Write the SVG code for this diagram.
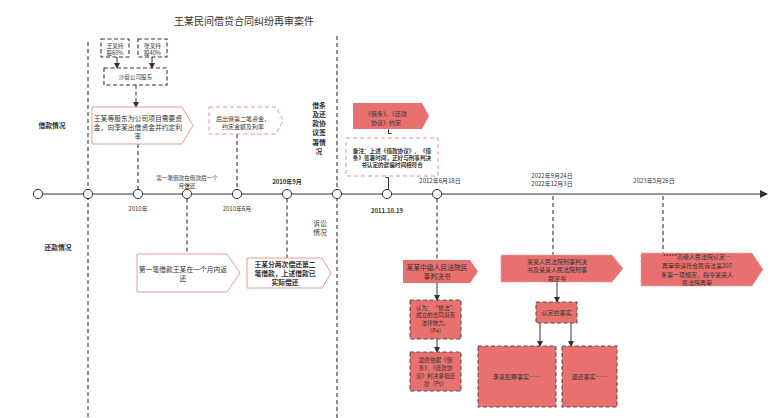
<svg xmlns="http://www.w3.org/2000/svg" width="778" height="418" viewBox="0 0 778 418">
<style>
text{font-family:"Noto Sans CJK SC","Noto Sans",sans-serif;fill:#333;}
.t7{font-size:6.8px;text-anchor:middle;}
.t6{font-size:6px;text-anchor:middle;}
.t5{font-size:5.6px;text-anchor:middle;}
.b{font-weight:bold;}
.vdash{stroke:#444;stroke-width:1.2;stroke-dasharray:4,3;fill:none;}
.sdash{stroke:#444;stroke-width:1.1;stroke-dasharray:4,2.5;fill:none;}
.circ{fill:#fff;stroke:#333;stroke-width:1;}
.pink{fill:#fff;stroke:#e99a9a;stroke-width:1;}
.pinkd{fill:#fff;stroke:#ee8e8e;stroke-width:1;stroke-dasharray:4,3;}
.red{fill:#e8706e;stroke:none;}
.redl{fill:#e8706e;stroke:#f2a3a3;stroke-width:1;stroke-dasharray:3,2;}
.redd{fill:#e8706e;stroke:#555;stroke-width:1.1;stroke-dasharray:4,2.5;}
.tb{fill:#fff;stroke:#333;stroke-width:1.1;stroke-dasharray:4,2.5;}
.arr{stroke:#333;stroke-width:1;fill:none;marker-end:url(#ah);}
</style>
<defs>
<marker id="ah" markerWidth="6" markerHeight="6" refX="5" refY="3" orient="auto" markerUnits="userSpaceOnUse">
<path d="M0,0 L6,3 L0,6 Z" fill="#333"/>
</marker>
<marker id="ahl" markerWidth="8" markerHeight="8" refX="7" refY="4" orient="auto" markerUnits="userSpaceOnUse">
<path d="M0,0 L8,4 L0,8 Z" fill="#333"/>
</marker>
</defs>
<rect width="778" height="418" fill="#fff"/>

<text x="244" y="25" style="font-size:10px;text-anchor:middle;">王某民间借贷合同纠纷再审案件</text>

<g id="labels">
<text x="52" y="128" class="t7 b">借款情况</text>
<text x="58" y="250" class="t7 b">还款情况</text>
<text x="319" y="108" class="t7 b">借条</text>
<text x="319" y="117" class="t7 b">及还</text>
<text x="319" y="126" class="t7 b">款协</text>
<text x="319" y="135" class="t7 b">议签</text>
<text x="319" y="145" class="t7 b">署情</text>
<text x="319" y="154" class="t7 b">况</text>
<text x="320" y="226" class="t7">诉讼</text>
<text x="320" y="235" class="t7">情况</text>
</g>

<g id="connectors">
<line x1="88" y1="42" x2="88" y2="418" class="vdash"/>
<line x1="337" y1="36" x2="337" y2="418" class="vdash"/>
<line x1="42.5" y1="194" x2="767" y2="194" stroke="#777" stroke-width="1.3" marker-end="url(#ahl)"/>
<line x1="117" y1="57" x2="117" y2="68" class="arr"/>
<line x1="152" y1="57" x2="152" y2="68" class="arr"/>
<line x1="136" y1="85" x2="136" y2="107" class="sdash" marker-end="url(#ah)"/>
<line x1="138" y1="144" x2="138" y2="189.5" class="vdash"/>
<line x1="237" y1="134" x2="237" y2="189.5" class="vdash"/>
<line x1="187" y1="198.5" x2="187" y2="254" class="vdash"/>
<line x1="287" y1="198.5" x2="287" y2="258" class="vdash"/>
<line x1="437" y1="198.5" x2="437" y2="260" class="vdash"/>
<line x1="553" y1="196" x2="553" y2="255" class="vdash"/>
<line x1="663" y1="196" x2="663" y2="253" class="vdash"/>
<path d="M388.5,129.5 V133.5 H391.5" stroke="#333" stroke-width="1" fill="none"/>
<path d="M385.5,177.5 H388.5 V189.5" stroke="#333" stroke-width="1" fill="none"/>
<line x1="437" y1="283" x2="437" y2="300" class="arr"/>
<line x1="437" y1="339" x2="437" y2="352" class="arr"/>
<line x1="557" y1="282" x2="557" y2="302" class="arr"/>
<line x1="540" y1="323" x2="540" y2="346" class="arr"/>
<line x1="571" y1="323" x2="571" y2="346" class="arr"/>
</g>

<g id="timeline-points">
<circle cx="38" cy="194" r="4.6" class="circ"/>
<circle cx="88" cy="194" r="4.6" class="circ"/>
<circle cx="138" cy="194" r="4.6" class="circ"/>
<circle cx="187" cy="194" r="4.6" class="circ"/>
<circle cx="237" cy="194" r="4.6" class="circ"/>
<circle cx="287" cy="194" r="4.6" class="circ"/>
<circle cx="337" cy="194" r="4.6" class="circ"/>
<circle cx="387" cy="194" r="4.6" class="circ"/>
<circle cx="437" cy="194" r="4.6" class="circ"/>
</g>

<g id="dates">
<text x="138" y="211" class="t6">2010年</text>
<text x="237" y="211" class="t6">2010年6月</text>
<text x="287" y="184" class="t6 b">2010年9月</text>
<text x="387" y="213" class="t6 b">2011.10.19</text>
<text x="440" y="183" class="t6">2012年6月18日</text>
<text x="552" y="178" class="t6">2022年9月24日</text>
<text x="552" y="186" class="t6">2022年12月3日</text>
<text x="654" y="183" class="t6">2023年5月26日</text>
<text x="187" y="180" class="t5">第一笔借款在借款后一个</text>
<text x="187" y="188" class="t5">月偿还</text>
</g>

<g id="n-wang">
<rect x="101" y="39" width="28" height="18" class="tb"/>
<text x="115" y="47.5" class="t5">王某持</text>
<text x="115" y="54.5" class="t5">股60%</text>
</g>
<g id="n-zhang">
<rect x="138" y="39" width="29" height="18" class="tb"/>
<text x="152.5" y="47.5" class="t5">张某持</text>
<text x="152.5" y="54.5" class="t5">股40%</text>
</g>
<g id="n-gudong">
<rect x="104" y="68" width="63" height="17" class="tb"/>
<text x="135.5" y="79" class="t5">沙窗公司股东</text>
</g>
<g id="n-loan1">
<path d="M92,107 H182 L193,125.5 L182,144 H92 Z" class="pink"/>
<text x="138" y="120.5" class="t7">王某等股东为公司项目需要资</text>
<text x="138" y="129.5" class="t7">金，向李某出借资金并约定利</text>
<text x="138" y="138.5" class="t7">率</text>
</g>
<g id="n-loan2">
<path d="M209,107 H276 L283,120.5 L276,134 H209 Z" class="pinkd"/>
<text x="243" y="120.5" class="t6">后出借第二笔资金，</text>
<text x="243" y="129" class="t6">约定金额及利率</text>
</g>
<g id="n-jietiao">
<path d="M353,103 H422 L429,116 L422,129 H353 Z" class="red"/>
<text x="386" y="115.5" class="t6">《借条》、《还款</text>
<text x="386" y="124.5" class="t6">协议》约定</text>
</g>
<g id="n-note">
<rect x="346" y="138" width="92" height="38" class="pinkd"/>
<text x="392" y="153" class="t5 b">备注：上述《借款协议》、《借</text>
<text x="392" y="160" class="t5 b">条》签署时间，正好与刑事判决</text>
<text x="392" y="167" class="t5 b">书认定的诓骗时间相符合</text>
</g>
<g id="n-repay1">
<path d="M137,254 H227 L240,273 L227,292 H137 Z" class="pink"/>
<text x="183" y="271.5" class="t7">第一笔借款王某在一个月内返</text>
<text x="183" y="280.5" class="t7">还</text>
</g>
<g id="n-repay2">
<path d="M247,258 H322 L331,273 L322,288 H247 Z" class="pink"/>
<text x="285" y="266.5" class="t7 b">王某分两次偿还第二</text>
<text x="285" y="276" class="t7 b">笔借款，上述借款已</text>
<text x="285" y="285" class="t7 b">实际偿还</text>
</g>
<g id="n-civil">
<path d="M403,260 H470 L478,271.5 L470,283 H403 Z" class="red"/>
<text x="437" y="270" class="t7">某某中级人民法院民</text>
<text x="437" y="279" class="t7">事判决书</text>
</g>
<g id="n-p4">
<rect x="410" y="300" width="51" height="39" class="redd"/>
<text x="435.5" y="309.5" class="t5">认为：“依法”</text>
<text x="435.5" y="317" class="t5">成立的合同具有</text>
<text x="435.5" y="324.5" class="t5">法律效力。</text>
<text x="435.5" y="332.5" class="t5">（P4）</text>
</g>
<g id="n-p5">
<rect x="410" y="352" width="51" height="39" class="redd"/>
<text x="435.5" y="361.5" class="t5">最终依据《借</text>
<text x="435.5" y="369.5" class="t5">条》、《还款协</text>
<text x="435.5" y="377.5" class="t5">议》判决承担还</text>
<text x="435.5" y="385.5" class="t5">款（P5）</text>
</g>
<g id="n-criminal">
<path d="M501,255 H612 L623,268.5 L612,282 H501 Z" class="redl"/>
<text x="557" y="263.5" class="t6">某某人民法院刑事判决</text>
<text x="557" y="272" class="t6">书及某某人民法院刑事</text>
<text x="557" y="280.5" class="t6">裁定书</text>
</g>
<g id="n-fact">
<rect x="536" y="302" width="41" height="21" class="redd"/>
<text x="556.5" y="315" class="t6">认定的事实</text>
</g>
<g id="n-crime">
<rect x="478" y="346" width="78" height="61" class="redd"/>
<text x="517" y="379" class="t6">李某犯罪事实……</text>
</g>
<g id="n-refund">
<rect x="562" y="346" width="55" height="61" class="redd"/>
<text x="589.5" y="379" class="t6">退还事实……</text>
</g>
<g id="n-high">
<path d="M641,253 H752 L763,269.5 L752,286 H641 Z" class="redl"/>
<text x="697" y="258.5" class="t6">*****高级人民法院认定…</text>
<text x="697" y="267.5" class="t6">再审申请符合民诉法第207</text>
<text x="697" y="276.5" class="t6">条第一项规定，指令某某人</text>
<text x="697" y="284.5" class="t6">民法院再审</text>
</g>
</svg>
